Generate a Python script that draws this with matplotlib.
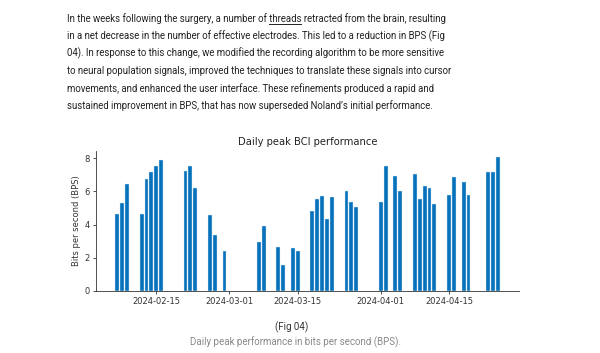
import matplotlib.pyplot as plt
import matplotlib.dates as mdates
from matplotlib.lines import Line2D
import pandas as pd

# dates and peak BPS values
dates = ["2024-02-07", "2024-02-08", "2024-02-09",
         "2024-02-12", "2024-02-13", "2024-02-14", "2024-02-15", "2024-02-16",
         "2024-02-21", "2024-02-22", "2024-02-23",
         "2024-02-26", "2024-02-27", "2024-02-29",
         "2024-03-07", "2024-03-08",
         "2024-03-11", "2024-03-12", "2024-03-14", "2024-03-15",
         "2024-03-18", "2024-03-19", "2024-03-20", "2024-03-21", "2024-03-22",
         "2024-03-25", "2024-03-26", "2024-03-27",
         "2024-04-01", "2024-04-02", "2024-04-04", "2024-04-05",
         "2024-04-08", "2024-04-09", "2024-04-10", "2024-04-11", "2024-04-12",
         "2024-04-15", "2024-04-16", "2024-04-18", "2024-04-19",
         "2024-04-23", "2024-04-24", "2024-04-25"]
bps = [4.62, 5.32, 6.43,
       4.63, 6.78, 7.15, 7.55, 7.92,
       7.23, 7.55, 6.2,
       4.6, 3.38, 2.38,
       2.92, 3.94,
       2.63, 1.57, 2.56, 2.42,
       4.82, 5.52, 5.7, 4.35, 5.67,
       6.03, 5.34, 5.08,
       5.38, 7.56, 6.94, 6.03,
       7.06, 5.52, 6.35, 6.19, 5.26,
       5.81, 6.9, 6.55, 5.77,
       7.16, 7.16, 8.06]
tick_dates = ["2024-02-15", "2024-03-01", "2024-03-15", "2024-04-01", "2024-04-15"]

paragraph = [
    "In the weeks following the surgery, a number of threads retracted from the brain, resulting",
    "in a net decrease in the number of effective electrodes. This led to a reduction in BPS (Fig",
    "04). In response to this change, we modified the recording algorithm to be more sensitive",
    "to neural population signals, improved the techniques to translate these signals into cursor",
    "movements, and enhanced the user interface. These refinements produced a rapid and",
    "sustained improvement in BPS, that has now superseded Noland\u2019s initial performance.",
]

fig = plt.figure(figsize=(6, 3.53), dpi=100)
fig.canvas.draw()
r = fig.canvas.get_renderer()


def text_width(s, **kw):
    t = fig.text(0, 0, s, **kw)
    w = t.get_window_extent(r).width
    t.remove()
    return w


# 文字段落：按参考图第一行宽度 (~385px) 调整字号
fam = "Roboto"
fs = 8.0
fs = fs * 385 / text_width(paragraph[0], family=fam, fontsize=fs)
txt_kw = dict(family=fam, fontsize=fs, color="#222222", va="center", ha="left")
x0 = 67
for i, s in enumerate(paragraph):
    fig.text(x0 / 600, 1 - (18.3 + 17.5 * i) / 353, s, **txt_kw)

# 给 "threads" 加下划线
w1 = text_width("In the weeks following the surgery, a number of threads", **txt_kw)
w2 = text_width("threads", **txt_kw)
x_end = x0 + w1
x_start = x_end - w2
uy = 1 - 23.5 / 353
fig.add_artist(Line2D([x_start / 600, x_end / 600], [uy, uy], color="#222222", lw=0.7))

# 柱状图
ax = fig.add_axes([96 / 600, 1 - 290.7 / 353, 423 / 600, 140 / 353])
x = pd.to_datetime(dates)
ax.bar(x, bps, width=0.8, color="#0672bb", edgecolor="#d6e8f5", linewidth=0.3)
ax.set_xticks(pd.to_datetime(tick_dates))
ax.xaxis.set_major_formatter(mdates.DateFormatter("%Y-%m-%d"))
ax.set_yticks([0, 2, 4, 6, 8])
ax.tick_params(labelsize=6, length=2.5, width=0.6, pad=2, colors="#333333")
ax.set_ylabel("Bits per second (BPS)", fontsize=6, color="#333333", labelpad=2.5)
ax.set_title("Daily peak BCI performance", fontsize=7.2, color="#222222", pad=4)
for side in ["top", "right"]:
    ax.spines[side].set_visible(False)
for side in ["left", "bottom"]:
    ax.spines[side].set_linewidth(0.6)
    ax.spines[side].set_color("#333333")

# 图注
cap_kw = dict(family=fam, ha="center", va="center")
cap_fs = 7.0 * 211 / text_width("Daily peak performance in bits per second (BPS).",
                                family=fam, fontsize=7.0)
fig.text(292 / 600, 1 - 327 / 353, "(Fig 04)", fontsize=cap_fs, color="#333333", **cap_kw)
fig.text(296 / 600, 1 - 342 / 353, "Daily peak performance in bits per second (BPS).",
         fontsize=cap_fs, color="#888888", **cap_kw)

fig.savefig("out.png", dpi=100)
